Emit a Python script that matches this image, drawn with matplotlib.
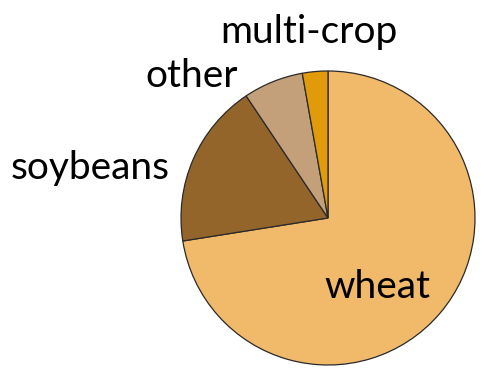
import matplotlib
matplotlib.use("Agg")
import matplotlib.pyplot as plt

# crop shares (percent)
crops = ["wheat", "soybeans", "other", "multi-crop"]
shares = [72.5, 18.1, 6.6, 2.8]
colors = ["#F0BA6A", "#94652A", "#C4A07A", "#E09A0A"]

plt.rcParams['font.family'] = ['Lato', 'DejaVu Sans']

fig = plt.figure(figsize=(4.84, 3.9), dpi=100)
ax = fig.add_axes([0, 0, 1, 1])

ax.pie(shares, colors=colors, startangle=90, counterclock=False,
       radius=1, center=(0, 0),
       wedgeprops=dict(edgecolor="#2a2a2a", linewidth=0.9))

# label positions (in pie radii)
label_pos = {"wheat": (0.333, -0.469),
             "soybeans": (-1.619, 0.340),
             "other": (-0.925, 0.966),
             "multi-crop": (-0.129, 1.265)}
for name in crops:
    x, y = label_pos[name]
    ax.text(x, y, name, fontsize=28, ha="center", va="center", color="black")

ax.set_xlim(-328 / 147, (484 - 328) / 147)
ax.set_ylim(-(390 - 218) / 147, 218 / 147)
ax.set_aspect("auto")
ax.axis("off")

fig.savefig("out.png", dpi=100)
